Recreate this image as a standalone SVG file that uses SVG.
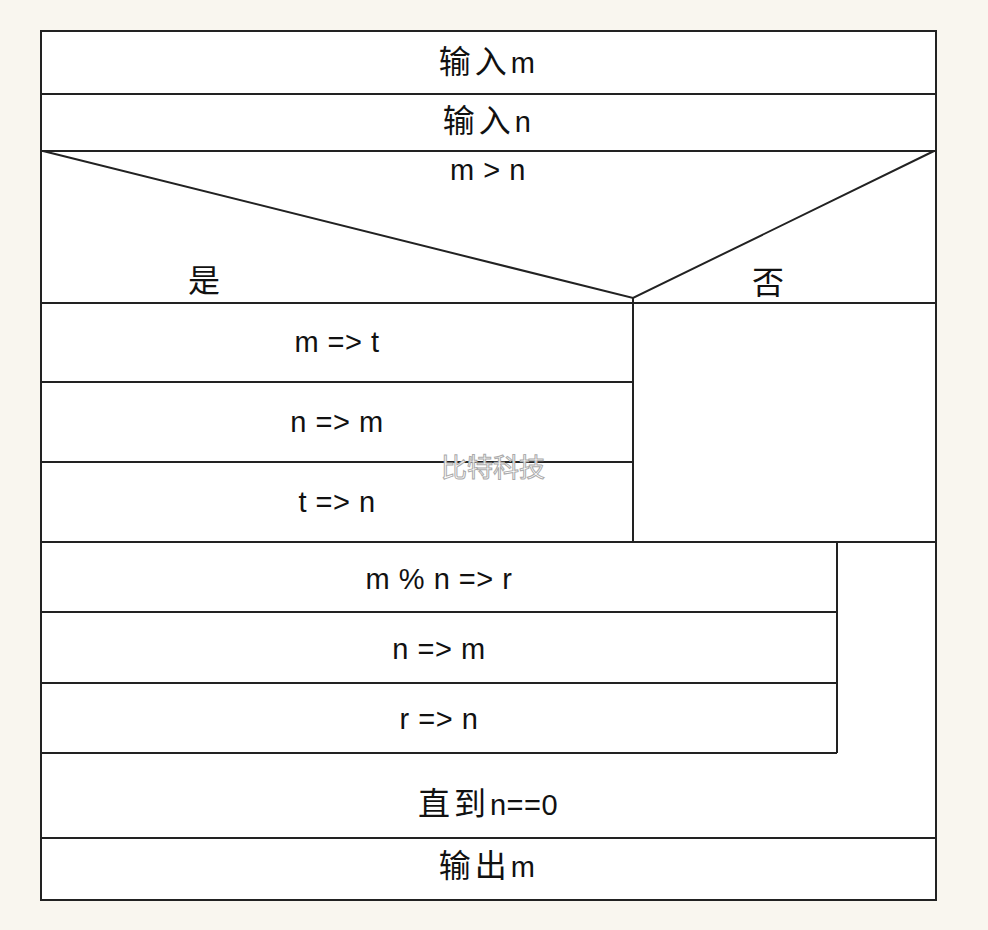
<svg xmlns="http://www.w3.org/2000/svg" width="988" height="930" viewBox="0 0 988 930">
<style>
.ln{stroke:#222;stroke-width:2;fill:none}
.bx{fill:#fff;stroke:#222;stroke-width:2}
.t{font-family:"Liberation Sans","Noto Sans CJK SC",sans-serif;font-size:29px;letter-spacing:0.5px;fill:#111;text-anchor:middle}
.c{font-family:"Noto Sans CJK SC",sans-serif;font-size:32px;letter-spacing:4px}
.s{font-family:"Noto Sans CJK SC",sans-serif;font-size:32px;fill:#111;text-anchor:middle}
.wm{font-family:"Noto Sans CJK SC",sans-serif;font-size:26px;fill:#fff;stroke:#aaa;stroke-width:1;text-anchor:middle}
</style>
<rect x="0" y="0" width="988" height="930" fill="#f9f6ef"/>
<rect class="bx" x="41" y="31" width="895" height="869"/>
<g id="n1"><line class="ln" x1="41" y1="94" x2="936" y2="94"/><text class="t" x="487" y="73"><tspan class="c">输入</tspan>m</text></g>
<g id="n2"><line class="ln" x1="41" y1="151" x2="936" y2="151"/><text class="t" x="487" y="132"><tspan class="c">输入</tspan>n</text></g>
<g id="n3">
<line class="ln" x1="41" y1="303" x2="936" y2="303"/>
<polyline class="ln" points="43,151 633,298 934,151"/>
<text class="t" x="488" y="180">m &gt; n</text>
<text class="s" x="204" y="292">是</text>
<text class="s" x="768" y="294">否</text>
</g>
<g id="n4"><line class="ln" x1="633" y1="298" x2="633" y2="542"/><line class="ln" x1="41" y1="382" x2="633" y2="382"/><text class="t" x="337" y="352">m =&gt; t</text></g>
<g id="n5"><line class="ln" x1="41" y1="462" x2="633" y2="462"/><text class="t" x="337" y="432">n =&gt; m</text></g>
<g id="n6"><line class="ln" x1="41" y1="542" x2="936" y2="542"/><text class="t" x="337" y="512">t =&gt; n</text></g>
<g id="n7"><line class="ln" x1="837" y1="542" x2="837" y2="753"/><line class="ln" x1="41" y1="612" x2="837" y2="612"/><text class="t" x="439" y="589">m % n =&gt; r</text></g>
<g id="n8"><line class="ln" x1="41" y1="683" x2="837" y2="683"/><text class="t" x="439" y="659">n =&gt; m</text></g>
<g id="n9"><line class="ln" x1="41" y1="753" x2="837" y2="753"/><text class="t" x="439" y="729">r =&gt; n</text></g>
<g id="n10"><line class="ln" x1="41" y1="838" x2="936" y2="838"/><text class="t" x="488" y="815"><tspan class="c">直到</tspan>n==0</text></g>
<g id="n11"><text class="t" x="487" y="877"><tspan class="c">输出</tspan>m</text></g>
<g id="connectors"></g>
<text class="wm" x="493" y="477">比特科技</text>
</svg>
